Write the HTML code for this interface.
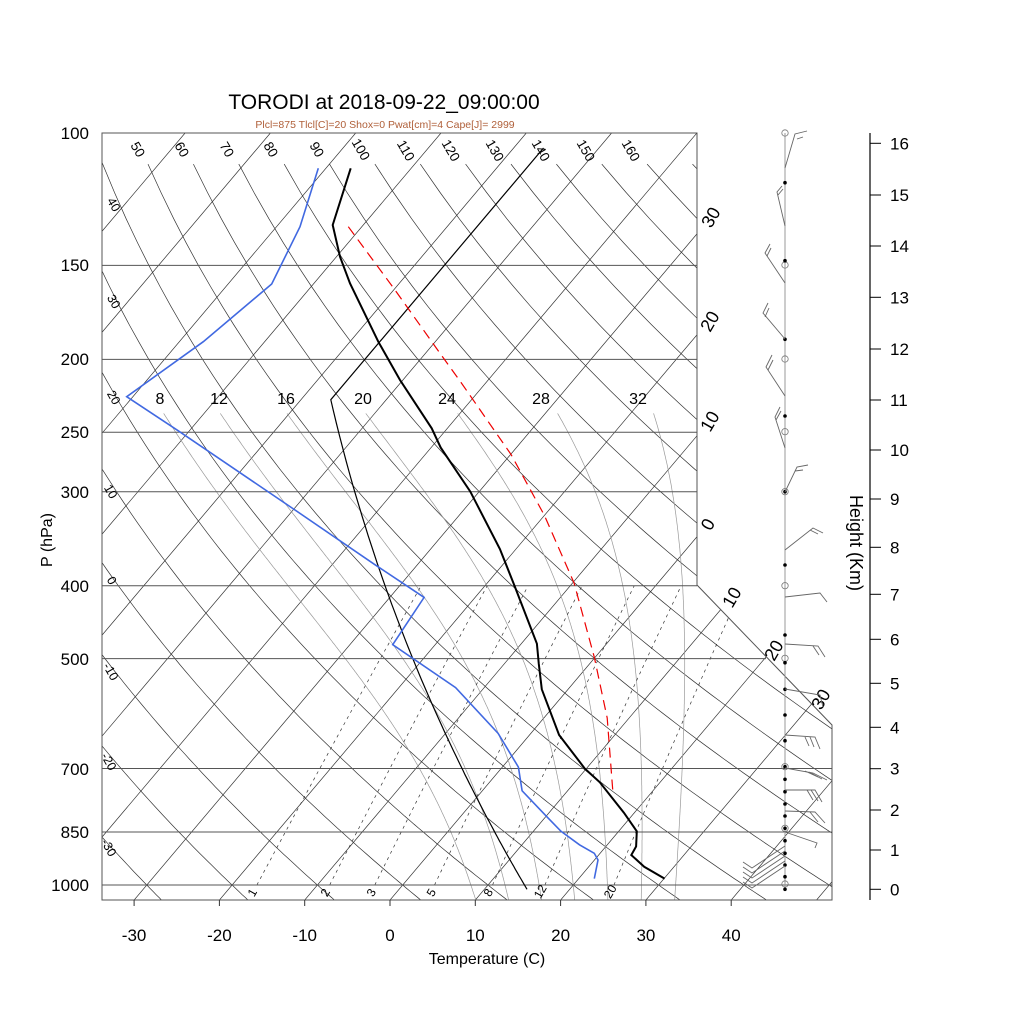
<!DOCTYPE html>
<html><head><meta charset="utf-8"><style>
html,body{margin:0;padding:0;background:#fff;width:1024px;height:1024px;overflow:hidden}
svg{display:block}
text{font-family:"Liberation Sans",sans-serif}
</style></head><body>
<svg id="s" width="1024" height="1024" viewBox="0 0 1024 1024" xmlns="http://www.w3.org/2000/svg">
<defs><clipPath id="cp"><polygon points="102,133 697,133 697,585 832,725 832,900 102,900"/></clipPath></defs>
<g id="grid" clip-path="url(#cp)"></g>
<g id="fg"></g>
<text x="384" y="109" font-size="21" text-anchor="middle" fill="#000">TORODI at 2018-09-22_09:00:00</text>
<text x="385" y="128" font-size="10.5" text-anchor="middle" fill="#b0603a">Plcl=875 Tlcl[C]=20 Shox=0 Pwat[cm]=4 Cape[J]= 2999</text>
<text x="487" y="964" font-size="16" text-anchor="middle">Temperature (C)</text>
<text transform="translate(52,540) rotate(-90)" font-size="16" text-anchor="middle">P (hPa)</text>
<text transform="translate(850,543) rotate(90)" font-size="18" text-anchor="middle">Height (Km)</text>
</svg>
<script>
const NS="http://www.w3.org/2000/svg";
const grid=document.getElementById('grid'),fg=document.getElementById('fg');
function el(p,tag,a,txt){const e=document.createElementNS(NS,tag);for(const k in a)e.setAttribute(k,a[k]);if(txt!==undefined)e.textContent=txt;p.appendChild(e);return e;}
const Y=p=>133+326.6*Math.log(p/100);
const X=(T,p)=>390+8.53*T+0.845*(900-Y(p));
function pl(par,pts,st){el(par,'polyline',Object.assign({points:pts.map(q=>q[0].toFixed(1)+','+q[1].toFixed(1)).join(' '),fill:'none'},st));}
const pls=[[150,697],[200,697],[250,697],[300,697],[400,697],[500,766],[700,832],[850,832],[1000,832]];
for(const [p,xe] of pls){const y=Y(p);el(fg,'line',{x1:102,y1:y,x2:xe,y2:y,stroke:'#555','stroke-width':1});}
for(let T=-120;T<=60;T+=10){pl(grid,[[X(T,1050),Y(1050)],[X(T,100),Y(100)]],{stroke:'#333','stroke-width':0.7});}
for(let th=-40;th<=260;th+=10){const pts=[];const ptop=th>=50?110:100;for(let p=1060;p>=ptop;p-=10){const T=(th+273.15)*Math.pow(p/1000,0.286)-273.15;pts.push([X(T,p),Y(p)]);}pl(grid,pts,{stroke:'#333','stroke-width':0.7});}
function dTdp(T,p){const es=6.112*Math.exp(17.67*(T-273.15)/(T-29.65));const rs=0.622*es/(p-es);const Rd=287.04,cp=1005.7,L=2.501e6;return (Rd*T+L*rs)/(p*(cp+L*L*rs*0.622/(Rd*T*T)));}
for(const tw of [8,12,16,20,24,28,32]){let T=tw+273.15,p=1000;const up=[];for(;p>=235;p-=2){up.push([X(T-273.15,p),Y(p)]);T-=2*dTdp(T,p);}
 let T2=tw+273.15;const dn=[];for(let q=1000;q<=1050;q+=2){dn.push([X(T2-273.15,q),Y(q)]);T2+=2*dTdp(T2,q);}
 pl(grid,dn.reverse().concat(up),{stroke:'#999','stroke-width':0.7});}
function tmr(w,p){const x=Math.log10(w*p/(622+w));return Math.pow(10,0.0498646455*x+2.4082965)-7.07475+38.9114*Math.pow(Math.pow(10,0.0915*x)-1.2035,2)-273.15;}
for(const w of [1,2,3,5,8,12,20]){const pts=[];for(let p=1000;p>=400;p-=20)pts.push([X(tmr(w,p),p),Y(p)]);pl(grid,pts,{stroke:'#333','stroke-width':0.7,'stroke-dasharray':'3,4'});}
{const pts=[];for(let p=1013.25;p>=226.3;p-=10){const T=288.15*Math.pow(p/1013.25,0.190263)-273.15;pts.push([X(T,p),Y(p)]);}pts.push([X(-56.5,226.3),Y(226.3)]);pts.push([X(-56.5,104.7),Y(104.7)]);pl(fg,pts,{stroke:'#000','stroke-width':1.2});}
el(fg,'polygon',{points:"102,133 697,133 697,585 832,725 832,900 102,900",fill:'none',stroke:'#555','stroke-width':1});
[-30,-20,-10,0,10,20,30,40].forEach(t=>{const x=390+8.53*t;el(fg,'line',{x1:x,y1:900,x2:x,y2:906,stroke:'#333','stroke-width':1});el(fg,'text',{x:x,y:941,'font-size':17,'text-anchor':'middle'},String(t));});
[[100,133],[150,265],[200,359],[250,432],[300,492],[400,586],[500,659],[700,769],[850,832],[1000,885]].forEach(([p,y])=>el(fg,'text',{x:89,y:y+6,'font-size':17,'text-anchor':'end'},String(p)));
pl(fg,[[350.7,168.3],[332.7,225],[340,256.7],[350,283.3],[378.3,341.7],[400,380],[431.7,428.3],[440.7,447.6],[470.3,491.6],[499.9,549],[514.7,586.2],[536.9,643.7],[538.8,664],[541.8,689.3],[559.1,735],[585,768.8],[599.8,782.3],[623.9,812.7],[636.8,831.3],[636.1,846.5],[631.3,855],[644.2,866.8],[664.6,878.6]],{stroke:'#000','stroke-width':2});
pl(fg,[[318.3,168.3],[300,226.7],[271.7,284],[203.3,341.7],[126.7,396.7],[178.1,430.7],[292.8,508.5],[374.2,564.2],[424.1,597.4],[392.7,644.7],[455.6,687.6],[498.1,733.3],[518.4,767.1],[522.1,790.8],[546.2,816.1],[561,831.3],[579.5,844.8],[594.3,853.3],[598,860],[594.3,878.6]],{stroke:'#4169e1','stroke-width':1.6});
pl(fg,[[348.3,226.7],[395,290],[440,353.3],[459.3,380],[511,454.4],[544.3,515.2],[574,582.8],[594.3,657.2],[607.2,718],[612.8,790.8]],{stroke:'#e00','stroke-width':1.2,'stroke-dasharray':'10,6'});
function rt(x,y,a,s,t){el(fg,'text',{transform:`translate(${x},${y}) rotate(${a})`,'font-size':s,'text-anchor':'middle','dominant-baseline':'middle'},t);}
[[137,150,50],[181,150,60],[226,150,70],[270,150,80],[316,150,90],[360,150,100],[405,151,110],[450,151,120],[494,151,130],[540,151,140],[585,151,150],[630,151,160]].forEach(([x,y,t])=>rt(x,y,60,13.5,String(t)));
[[113,205,'40'],[113,302,'30'],[113,398,'20'],[110,492,'10'],[111,581,'0'],[110,672,'-10'],[108,762,'-20'],[108,848,'-30']].forEach(([x,y,t])=>rt(x,y,60,12.5,t));
[[712,218,'30'],[711,322,'20'],[711,422,'10'],[709,525,'0'],[733,598,'10'],[775,651,'20'],[822,700,'30']].forEach(([x,y,t])=>rt(x,y,-60,18,t));
[[160,'8'],[219,'12'],[286,'16'],[363,'20'],[447,'24'],[541,'28'],[638,'32']].forEach(([x,t])=>el(fg,'text',{x:x,y:404,'font-size':16,'text-anchor':'middle'},t));
[[253,893,'1'],[326,893,'2'],[372,893,'3'],[432,893,'5'],[489,893,'8'],[541,892,'12'],[611,892,'20']].forEach(([x,y,t])=>rt(x,y,-60,12,t));
el(fg,'line',{x1:870,y1:133,x2:870,y2:900,stroke:'#000','stroke-width':1.2});
[889.3,850,810,768.7,727.3,683.3,639.3,594.3,547.3,499,450,400,349,297.3,246,195,143.3].forEach((y,i)=>{el(fg,'line',{x1:870,y1:y,x2:881,y2:y,stroke:'#000','stroke-width':1});el(fg,'text',{x:890,y:y+6,'font-size':17},String(i));});
el(fg,'line',{x1:785,y1:133,x2:785,y2:890,stroke:'#999','stroke-width':1});
const B={stroke:'#666','stroke-width':0.9,fill:'none'};
[133,265,359,431.7,491.7,585.7,658.3,766.7,828.3,884].forEach(y=>el(fg,'circle',{cx:785,cy:y,r:3.2,fill:'none',stroke:'#777','stroke-width':0.8}));
[182.7,260.7,339.3,416,491.7,565,635,662.7,689.3,715,740.7,766.7,779.3,791.7,804,816,828.3,840.7,853.3,865,876.7,889.3].forEach(y=>el(fg,'circle',{cx:785,cy:y,r:1.8,fill:'#000'}));
const barbs=[
[[785,168],[795,134],[807,131]],[[797,139],[803,137]],
[[785,226],[777,192],[782,186]],[[778,195],[783,189]],
[[785,283],[765,253],[770,244]],[[767,256],[771,248]],
[[785,339],[763,313],[768,303]],[[765,317],[769,308]],
[[785,396],[766,367],[772,355]],[[768,370],[773,360]],
[[785,448],[775,417],[780,407]],[[776,420],[781,411]],
[[785,492],[797,467],[808,465]],[[795,471],[803,470]],
[[785,550],[813,528],[823,533]],[[810,530],[818,534]],
[[785,597],[820,593],[827,602]],
[[785,644],[818,646],[825,657]],[[813,646],[819,655]],
[[785,689],[820,695],[823,707]],
[[785,735],[815,737],[820,749]],[[810,737],[814,747]],[[805,737],[809,746]],
[[785,768],[813,773],[827,780]],[[809,772],[822,779]],[[805,771],[818,777]],
[[785,790],[815,790],[822,802]],[[811,790],[818,801]],[[807,790],[813,800]],
[[785,811],[815,812],[825,823]],[[810,812],[818,822]],
[[785,832],[817,843],[815,848]]
];
barbs.forEach(b=>pl(fg,b,B));
[846,851,856,861,866].forEach(y=>{pl(fg,[[785,y],[752,y+22],[743,y+16]],B);});
</script>
</body></html>
